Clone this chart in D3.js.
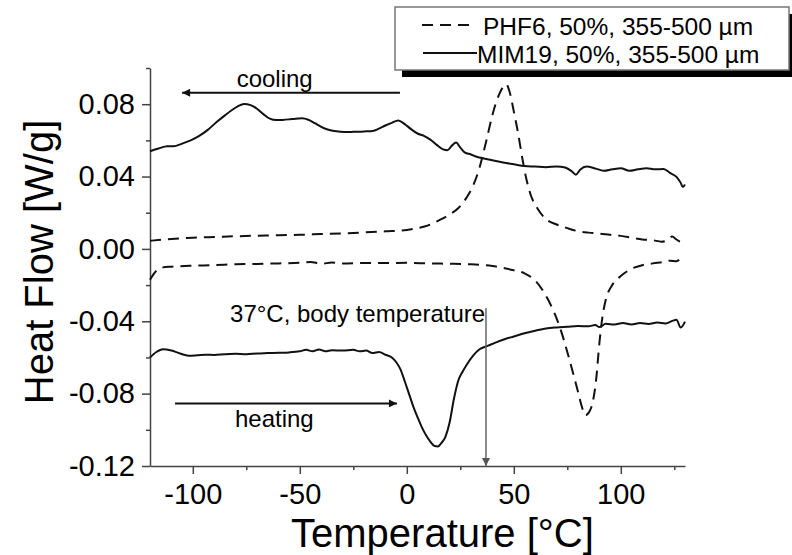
<!DOCTYPE html>
<html>
<head>
<meta charset="utf-8">
<title>DSC heat flow</title>
<script src="https://d3js.org/d3.v7.min.js"></script>
<style>
  body { margin: 0; background: #fff; }
  text { font-family: "Liberation Sans", Arial, sans-serif; fill: #000; }
</style>
</head>
<body>
<div id="chart"></div>
<script>
// ---- data: [temperature °C, heat flow W/g] ----
var mimCooling = [[-120,0.0540],[-116,0.0555],[-112,0.0568],[-109,0.0567],[-105,0.0582],[-101,0.0600],[-97,0.0625],[-93,0.0658],[-89,0.0700],[-85,0.0738],[-82,0.0765],[-79,0.0788],[-76,0.0801],[-73,0.0795],[-70,0.0775],[-67,0.0745],[-64,0.0720],[-61,0.0712],[-58,0.0713],[-55,0.0716],[-52,0.0720],[-49,0.0722],[-46,0.0714],[-43,0.0695],[-40,0.0675],[-37,0.0660],[-34,0.0652],[-31,0.0648],[-28,0.0646],[-25,0.0647],[-22,0.0648],[-19,0.0650],[-16,0.0652],[-13,0.0665],[-10,0.0682],[-7,0.0697],[-4,0.0710],[-1,0.0690],[2,0.0662],[5,0.0638],[8,0.0625],[11,0.0604],[14,0.0575],[17,0.0550],[19,0.0545],[21,0.0570],[23,0.0588],[25,0.0560],[27,0.0534],[30,0.0522],[33,0.0508],[36,0.0500],[40,0.0490],[45,0.0478],[50,0.0468],[55,0.0458],[60,0.0455],[65,0.0452],[70,0.0456],[74,0.0450],[77,0.0430],[79,0.0410],[81,0.0438],[84,0.0455],[88,0.0445],[92,0.0432],[96,0.0440],[100,0.0446],[104,0.0432],[108,0.0440],[112,0.0446],[116,0.0440],[120,0.0442],[123,0.0420],[126,0.0398],[128,0.0365],[129,0.0342],[130,0.0356]];

var phfCooling = [[-120,0.0045],[-110,0.0055],[-100,0.0062],[-90,0.0066],[-80,0.0070],[-70,0.0073],[-60,0.0076],[-50,0.0078],[-40,0.0082],[-30,0.0086],[-20,0.0091],[-10,0.0097],[0,0.0105],[5,0.0115],[10,0.0130],[15,0.0158],[20,0.0190],[24,0.0225],[28,0.0285],[31,0.0350],[34,0.0450],[37,0.0590],[40,0.0740],[43,0.0850],[45,0.0895],[46.5,0.0910],[48,0.0870],[50,0.0760],[52,0.0640],[54,0.0500],[56,0.0380],[58,0.0295],[61,0.0225],[65,0.0165],[70,0.0135],[75,0.0115],[80,0.0098],[85,0.0090],[90,0.0085],[95,0.0078],[100,0.0072],[105,0.0062],[110,0.0052],[115,0.0048],[119,0.0040],[122,0.0050],[124,0.0068],[126,0.0052],[128,0.0040],[130,0.0045]];

var phfHeating = [[-120,-0.0170],[-117,-0.0120],[-114,-0.0102],[-110,-0.0098],[-100,-0.0093],[-90,-0.0090],[-80,-0.0085],[-70,-0.0083],[-60,-0.0080],[-50,-0.0077],[-45,-0.0072],[-40,-0.0082],[-35,-0.0075],[-30,-0.0080],[-20,-0.0078],[-10,-0.0078],[0,-0.0077],[10,-0.0080],[20,-0.0082],[30,-0.0085],[40,-0.0095],[45,-0.0105],[50,-0.0118],[55,-0.0135],[60,-0.0175],[63,-0.0220],[66,-0.0280],[69,-0.0355],[72,-0.0450],[75,-0.0570],[78,-0.0700],[80,-0.0790],[82,-0.0880],[83.5,-0.0920],[85,-0.0905],[87,-0.0840],[88.5,-0.0720],[90,-0.0520],[91.5,-0.0370],[93,-0.0280],[96,-0.0200],[100,-0.0150],[105,-0.0110],[110,-0.0090],[115,-0.0080],[120,-0.0072],[123,-0.0065],[126,-0.0068],[128,-0.0055],[130,-0.0040]];

var mimHeating = [[-120,-0.0600],[-117,-0.0570],[-114,-0.0555],[-110,-0.0562],[-106,-0.0578],[-102,-0.0590],[-98,-0.0588],[-94,-0.0585],[-90,-0.0586],[-85,-0.0582],[-80,-0.0580],[-75,-0.0582],[-70,-0.0578],[-65,-0.0576],[-60,-0.0574],[-55,-0.0572],[-50,-0.0566],[-47,-0.0558],[-44,-0.0566],[-41,-0.0556],[-38,-0.0566],[-35,-0.0560],[-30,-0.0562],[-25,-0.0558],[-22,-0.0566],[-19,-0.0562],[-16,-0.0576],[-13,-0.0570],[-10,-0.0585],[-7,-0.0600],[-5,-0.0625],[-3,-0.0665],[-1,-0.0730],[1,-0.0800],[3,-0.0870],[5,-0.0930],[7,-0.0985],[9,-0.1030],[11,-0.1065],[13,-0.1090],[14.5,-0.1092],[16,-0.1075],[18,-0.1040],[20,-0.0960],[22,-0.0830],[24,-0.0730],[26,-0.0680],[28,-0.0640],[31,-0.0590],[34,-0.0555],[38,-0.0535],[42,-0.0515],[46,-0.0498],[50,-0.0484],[55,-0.0466],[60,-0.0452],[65,-0.0440],[70,-0.0434],[75,-0.0430],[80,-0.0426],[85,-0.0428],[88,-0.0420],[90,-0.0432],[93,-0.0414],[97,-0.0418],[101,-0.0410],[105,-0.0418],[109,-0.0410],[113,-0.0415],[117,-0.0407],[121,-0.0412],[124,-0.0398],[126,-0.0392],[128,-0.0435],[130,-0.0402]];

// tick values
var xTicks = [-100, -50, 0, 50, 100];
var xMinorTicks = [-75, -25, 25, 75, 125];
var yTicks = [-0.12, -0.08, -0.04, 0.00, 0.04, 0.08];
var yMinorTicks = [-0.10, -0.06, -0.02, 0.02, 0.06, 0.10];

// legend entries
var legendLabels = ["PHF6, 50%, 355-500 µm", "MIM19, 50%, 355-500 µm"];
var legendDashes = ["11,7", null];

// set the dimensions of the graph
var width = 792, height = 555;
var plot = {left: 150, right: 685, top: 68, bottom: 466};

var svg = d3.select("#chart")
  .append("svg")
  .attr("width", width)
  .attr("height", height);

// scales
var x = d3.scaleLinear().domain([-120, 130]).range([plot.left, plot.right]);
var y = d3.scaleLinear().domain([-0.12, 0.10]).range([plot.bottom, plot.top]);

// X axis (major + minor ticks)
var xAxis = svg.append("g")
  .attr("transform", "translate(0," + plot.bottom + ")")
  .call(d3.axisBottom(x).tickValues(xTicks).tickSize(8).tickSizeOuter(0).tickPadding(9)
    .tickFormat(function(d) { return String(d); }));
svg.append("g")
  .attr("transform", "translate(0," + plot.bottom + ")")
  .call(d3.axisBottom(x).tickValues(xMinorTicks).tickSize(4).tickFormat(""))
  .select(".domain").remove();

// Y axis (major + minor ticks)
var yAxis = svg.append("g")
  .attr("transform", "translate(" + plot.left + ",0)")
  .call(d3.axisLeft(y).tickValues(yTicks).tickSize(8).tickSizeOuter(0).tickPadding(7)
    .tickFormat(function(d) { return d.toFixed(2); }));
svg.append("g")
  .attr("transform", "translate(" + plot.left + ",0)")
  .call(d3.axisLeft(y).tickValues(yMinorTicks).tickSize(4).tickFormat(""))
  .select(".domain").remove();

svg.selectAll(".domain, .tick line")
  .attr("stroke", "#444")
  .attr("stroke-width", 1.5);
svg.selectAll(".tick text")
  .style("font-family", "'Liberation Sans', Arial, sans-serif")
  .style("font-size", "29px")
  .attr("fill", "#000");

// axis titles
svg.append("text")
  .attr("x", 291)
  .attr("y", 547)
  .style("font-size", "40px")
  .text("Temperature [°C]");

svg.append("text")
  .attr("transform", "translate(53,262) rotate(-90)")
  .style("text-anchor", "middle")
  .style("font-size", "40px")
  .text("Heat Flow [W/g]");

// the four curves
var line = d3.line()
  .x(function(d) { return x(d[0]); })
  .y(function(d) { return y(d[1]); })
  .curve(d3.curveMonotoneX);

var series = [
  {data: phfCooling, dash: "11,7"},
  {data: phfHeating, dash: "11,7"},
  {data: mimCooling, dash: null},
  {data: mimHeating, dash: null}
];
series.forEach(function(s) {
  svg.append("path")
    .datum(s.data)
    .attr("fill", "none")
    .attr("stroke", "#111")
    .attr("stroke-width", 2)
    .attr("stroke-dasharray", s.dash)
    .attr("d", line);
});

// arrow heads
var defs = svg.append("defs");
[["arrowBlack", "#111"], ["arrowGrey", "#555"]].forEach(function(m) {
  defs.append("marker")
    .attr("id", m[0])
    .attr("viewBox", "0 0 10 10")
    .attr("refX", 10).attr("refY", 5)
    .attr("markerWidth", 13).attr("markerHeight", 8)
    .attr("markerUnits", "userSpaceOnUse")
    .attr("orient", "auto")
    .append("path")
    .attr("d", "M0,0 L10,5 L0,10 Z")
    .attr("fill", m[1]);
});

// annotation arrows: [from T, from v, to T, to v]
var arrows = [
  {from: [-3.2, 0.0863], to: [-105, 0.0863], color: "#111", marker: "arrowBlack", w: 2},
  {from: [-108.3, -0.0854], to: [-4.6, -0.0854], color: "#111", marker: "arrowBlack", w: 2},
  {from: [37, -0.0327], to: [37, -0.12], color: "#666", marker: "arrowGrey", w: 1.5}
];
arrows.forEach(function(a) {
  svg.append("line")
    .attr("x1", x(a.from[0])).attr("y1", y(a.from[1]))
    .attr("x2", x(a.to[0])).attr("y2", y(a.to[1]))
    .attr("stroke", a.color)
    .attr("stroke-width", a.w)
    .attr("marker-end", "url(#" + a.marker + ")");
});

// annotation labels
var notes = [
  {t: -79.5, v: 0.0897, text: "cooling"},
  {t: -80.3, v: -0.0983, text: "heating"},
  {t: -82.6, v: -0.0402, text: "37°C, body temperature"}
];
svg.selectAll(".note")
  .data(notes)
  .enter().append("text")
  .attr("class", "note")
  .attr("x", function(d) { return x(d.t); })
  .attr("y", function(d) { return y(d.v); })
  .style("font-size", "24px")
  .text(function(d) { return d.text; });

// legend with drop shadow
var legend = svg.append("g").attr("transform", "translate(395,7)");
legend.append("rect")
  .attr("x", 7).attr("y", 7)
  .attr("width", 394).attr("height", 63)
  .attr("fill", "#000");
legend.append("rect")
  .attr("width", 394).attr("height", 63)
  .attr("fill", "#fff")
  .attr("stroke", "#777")
  .attr("stroke-width", 1.5);

legendLabels.forEach(function(label, i) {
  var ly = 18 + i * 28;
  legend.append("line")
    .attr("x1", i === 0 ? 27 : 28).attr("x2", i === 0 ? 75 : 82)
    .attr("y1", ly).attr("y2", ly)
    .attr("stroke", "#111")
    .attr("stroke-width", 2)
    .attr("stroke-dasharray", legendDashes[i]);
  legend.append("text")
    .attr("x", i === 0 ? 88 : 82)
    .attr("y", ly + 10)
    .style("font-size", "24.5px")
    .text(label);
});
</script>
</body>
</html>
